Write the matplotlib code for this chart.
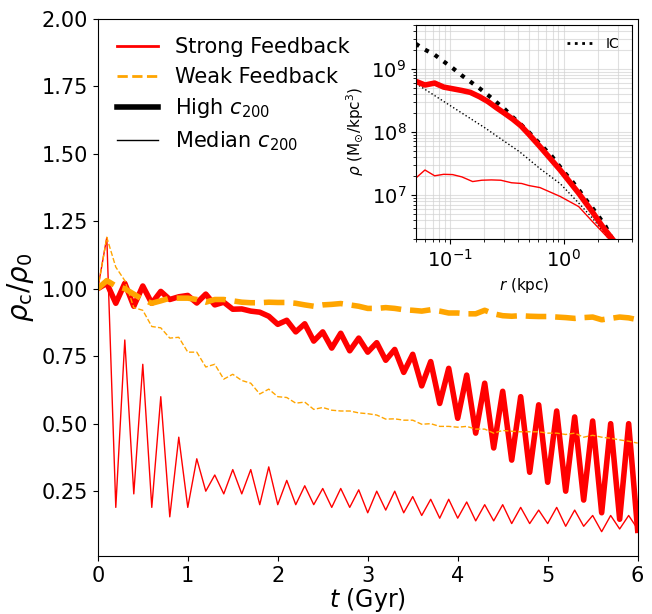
import numpy as np
import matplotlib
matplotlib.use("Agg")
import matplotlib.pyplot as plt
from matplotlib.lines import Line2D

# snapshot times (Gyr)
t = np.linspace(0, 6, 61)

# rho_c / rho_0, strong feedback
strong_high = [1.00, 1.02, 0.946, 1.02, 0.935, 1.01, 0.946, 0.99, 0.96, 0.97, 0.975,
               0.947, 0.98, 0.94, 0.95, 0.924, 0.925, 0.917, 0.913, 0.898, 0.868,
               0.883, 0.84, 0.87, 0.806, 0.84, 0.78, 0.835, 0.77, 0.817, 0.765,
               0.80, 0.735, 0.775, 0.69, 0.757, 0.64, 0.73, 0.575, 0.705, 0.52,
               0.68, 0.465, 0.65, 0.41, 0.62, 0.365, 0.60, 0.32, 0.57, 0.283,
               0.547, 0.25, 0.525, 0.217, 0.51, 0.17, 0.50, 0.146, 0.50, 0.105]
strong_median = [1.00, 1.19, 0.19, 0.81, 0.24, 0.72, 0.19, 0.60, 0.155, 0.45, 0.19,
                 0.37, 0.25, 0.31, 0.24, 0.33, 0.24, 0.33, 0.20, 0.34, 0.20,
                 0.29, 0.20, 0.27, 0.20, 0.26, 0.19, 0.26, 0.19, 0.255, 0.17,
                 0.25, 0.18, 0.25, 0.17, 0.23, 0.16, 0.22, 0.15, 0.22, 0.15,
                 0.21, 0.14, 0.20, 0.14, 0.20, 0.13, 0.19, 0.13, 0.18, 0.13,
                 0.19, 0.12, 0.18, 0.12, 0.16, 0.10, 0.16, 0.11, 0.16, 0.11]

# rho_c / rho_0, weak feedback
weak_high = [1.00, 1.03, 1.01, 1.00, 0.98, 0.96, 0.946, 0.955, 0.965, 0.965, 0.965,
             0.96, 0.95, 0.96, 0.96, 0.955, 0.95, 0.948, 0.948, 0.95, 0.949,
             0.949, 0.946, 0.94, 0.935, 0.94, 0.942, 0.945, 0.94, 0.935, 0.927,
             0.927, 0.93, 0.927, 0.922, 0.92, 0.917, 0.922, 0.917, 0.91, 0.91,
             0.907, 0.907, 0.92, 0.907, 0.90, 0.898, 0.90, 0.898, 0.897, 0.897,
             0.895, 0.893, 0.89, 0.893, 0.895, 0.885, 0.89, 0.895, 0.892, 0.885]
weak_median = [1.00, 1.19, 1.08, 1.03, 0.93, 0.92, 0.86, 0.855, 0.817, 0.82, 0.765,
               0.765, 0.71, 0.72, 0.665, 0.683, 0.66, 0.65, 0.61, 0.628, 0.60,
               0.597, 0.576, 0.58, 0.553, 0.56, 0.55, 0.547, 0.547, 0.54, 0.537,
               0.532, 0.517, 0.518, 0.513, 0.513, 0.498, 0.50, 0.49, 0.49, 0.487,
               0.49, 0.48, 0.48, 0.465, 0.475, 0.472, 0.47, 0.47, 0.47, 0.465,
               0.465, 0.46, 0.465, 0.45, 0.457, 0.45, 0.446, 0.44, 0.435, 0.428]

# inset: density profiles (kpc, Msun/kpc^3)
r_ic = [0.0497, 0.060, 0.073, 0.0877, 0.1054, 0.1268, 0.151, 0.181, 0.216, 0.256,
        0.303, 0.357, 0.421, 0.495, 0.664, 0.787, 0.904, 1.035, 1.21, 1.387,
        1.58, 1.786, 2.05, 2.34, 2.69]
rho_ic_high = [2.48e9, 2.0e9, 1.66e9, 1.30e9, 1.02e9, 7.8e8, 6.2e8, 4.9e8, 3.8e8, 2.94e8,
               2.28e8, 1.70e8, 1.30e8, 9.8e7, 5.6e7, 4.1e7, 2.97e7, 2.19e7, 1.58e7, 1.15e7,
               8.3e6, 6.3e6, 4.5e6, 3.2e6, 2.0e6]
r_ic_med = [0.05, 0.1, 0.2, 0.41, 0.62, 0.935, 1.36, 1.79, 2.12, 2.51]
rho_ic_med = [5.8e8, 2.6e8, 1.17e8, 4.8e7, 2.6e7, 1.5e7, 7.4e6, 4.3e6, 2.95e6, 2.0e6]

r_high = [0.0497, 0.060, 0.073, 0.0877, 0.105, 0.127, 0.151, 0.181, 0.216, 0.256,
          0.303, 0.357, 0.421, 0.495, 0.62, 0.935, 1.36, 1.79, 2.19, 2.69]
rho_high = [6.3e8, 5.5e8, 5.9e8, 5.1e8, 4.8e8, 4.5e8, 4.2e8, 3.6e8, 3.0e8, 2.4e8,
            1.95e8, 1.58e8, 1.24e8, 9.1e7, 5.8e7, 2.47e7, 1.06e7, 5.4e6, 3.2e6, 2.0e6]
r_med = [0.0497, 0.060, 0.073, 0.0877, 0.105, 0.127, 0.158, 0.19, 0.231, 0.28,
         0.348, 0.427, 0.495, 0.62, 0.935, 1.36, 1.79, 2.19, 2.51]
rho_med = [1.83e7, 2.47e7, 2.0e7, 2.11e7, 2.09e7, 1.92e7, 1.62e7, 1.70e7, 1.72e7, 1.70e7,
           1.55e7, 1.51e7, 1.40e7, 1.30e7, 9.4e6, 6.5e6, 3.8e6, 2.6e6, 2.0e6]

fig = plt.figure(figsize=(6.52, 6.14), dpi=100)
ax = fig.add_axes([0.150, 0.0945, 0.828, 0.875])

ax.plot(t, strong_high, color='red', lw=4)
ax.plot(t, strong_median, color='red', lw=1)
ax.plot(t, weak_high, color='orange', lw=4, ls='--')
ax.plot(t, weak_median, color='orange', lw=1, ls='--')

ax.set_xlim(0, 6)
ax.set_ylim(0.01, 2.0)
ax.set_yticks([0.25, 0.5, 0.75, 1.0, 1.25, 1.5, 1.75, 2.0])
ax.tick_params(labelsize=15)
ax.set_xlabel(r'$t$ (Gyr)', fontsize=17, labelpad=0)
ax.set_ylabel(r'$\rho_{\rm c}/\rho_0$', fontsize=20)

handles = [Line2D([], [], color='red', lw=2),
           Line2D([], [], color='orange', lw=2, ls='--'),
           Line2D([], [], color='black', lw=4),
           Line2D([], [], color='black', lw=1)]
labels = ['Strong Feedback', 'Weak Feedback', r'High $c_{200}$', r'Median $c_{200}$']
ax.legend(handles, labels, loc='upper left', frameon=False, fontsize=15,
          labelspacing=0.45)

# inset
ins = fig.add_axes([0.638, 0.611, 0.331, 0.349])
ins.plot(r_ic, rho_ic_high, color='black', lw=3, ls=':')
ins.plot(r_ic_med, rho_ic_med, color='black', lw=1, ls=':')
ins.plot(r_high, rho_high, color='red', lw=4)
ins.plot(r_med, rho_med, color='red', lw=1)
ins.set_xscale('log')
ins.set_yscale('log')
ins.set_xlim(0.05, 4)
ins.set_ylim(2e6, 5e9)
ins.grid(which='both', color='lightgray', alpha=0.7, lw=0.8)
ins.tick_params(labelsize=14)
ins.set_xlabel(r'$r$ (kpc)', fontsize=11)
ins.set_ylabel(r'$\rho$ (M$_{\odot}$/kpc$^3$)', fontsize=11)
ins.legend([Line2D([], [], color='black', lw=2, ls=':')], ['IC'],
           loc='upper right', frameon=False, fontsize=10)

fig.savefig('out.png', dpi=100)
